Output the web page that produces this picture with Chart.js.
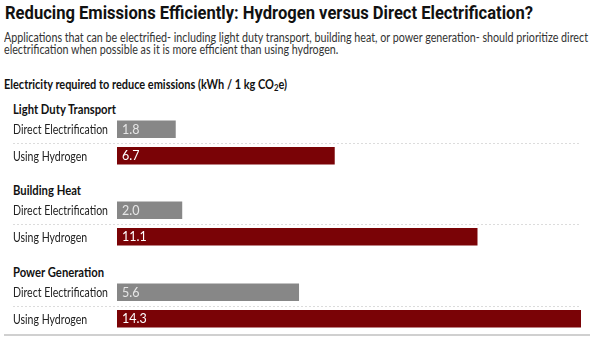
<!DOCTYPE html>
<html><head><meta charset="utf-8">
<script src="https://cdn.jsdelivr.net/npm/chart.js@4/dist/chart.umd.min.js"></script>
<style>
html,body{margin:0;padding:0;background:#fff;}
#wrap{position:relative;width:600px;height:355px;overflow:hidden;font-family:Lato,Roboto,sans-serif;color:#1a1a1a;}
.t{position:absolute;white-space:nowrap;transform-origin:0 0;}
#title{left:5px;top:3px;font-family:Roboto,sans-serif;font-size:18px;font-weight:700;line-height:20px;color:#111;}
.sub{left:4px;font-size:13.5px;line-height:12px;color:#333;}
#head{left:4px;top:77px;font-size:13.5px;font-weight:700;line-height:14px;color:#111;}
.grp{left:13px;font-size:13px;font-weight:700;line-height:14px;color:#111;}
.cw{position:absolute;left:0;width:600px;height:53px;}
#rule{position:absolute;left:4px;top:334px;width:586px;height:2px;background:#d0d0d0;}
</style></head>
<body>
<div id="wrap">
  <div id="title" class="t">Reducing Emissions Efficiently: Hydrogen versus Direct Electrification?</div>
  <div id="sub1" class="t sub" style="top:31px">Applications that can be electrified- including light duty transport, building heat, or power generation- should prioritize direct</div>
  <div id="sub2" class="t sub" style="top:43px">electrification when possible as it is more efficient than using hydrogen.</div>
  <div id="head" class="t">Electricity required to reduce emissions (kWh / 1 kg CO<sub style="font-size:9.5px;vertical-align:-2px;line-height:0">2</sub>e)</div>
  <div id="rule"></div>
</div>
<script>
// ---- data ----
const groups = ['Light Duty Transport', 'Building Heat', 'Power Generation'];
const rowLabels = ['Direct Electrification', 'Using Hydrogen'];
const directValues = [1.8, 2.0, 5.6];
const hydrogenValues = [6.7, 11.1, 14.3];

// ---- style ----
const FONT = "Lato, Roboto, sans-serif";
const LABEL_FONT = '13.5px ' + FONT;
const GRAY = '#878787';
const RED = '#7a0306';
const groupTops = [116, 197, 279];
const headerTops = [102, 183, 265];

const wrap = document.getElementById('wrap');

function fit(el, target) {
  const w = el.getBoundingClientRect().width;
  const k = target / w;
  el.style.transform = 'scaleX(' + k + ')';
  return k;
}
fit(document.getElementById('title'), 528);
const k = fit(document.getElementById('sub1'), 584);
document.getElementById('sub2').style.transform = 'scaleX(' + k + ')';
fit(document.getElementById('head'), 283);

const xMax = Math.max(...directValues, ...hydrogenValues);

// horizontal condensing factor for the row labels (narrow face in the original)
const mctx = document.createElement('canvas').getContext('2d');
mctx.font = LABEL_FONT;
const labelK = 95 / mctx.measureText(rowLabels[0]).width;

const separator = {
  id: 'separator',
  beforeDatasetsDraw(chart) {
    const y = chart.scales.y;
    const yy = Math.round((y.getPixelForValue(0) + y.getPixelForValue(1)) / 2) + 0.5;
    const c = chart.ctx;
    c.save();
    c.strokeStyle = '#dcdcdc';
    c.lineWidth = 1;
    c.setLineDash([2, 2]);
    c.beginPath();
    c.moveTo(13, yy);
    c.lineTo(chart.chartArea.right, yy);
    c.stroke();
    c.restore();
  }
};

const rowLabelDraw = {
  id: 'rowLabelDraw',
  afterDraw(chart) {
    const s = chart.scales.y;
    const c = chart.ctx;
    c.save();
    c.font = LABEL_FONT;
    c.fillStyle = '#222';
    c.textBaseline = 'middle';
    c.textAlign = 'left';
    s.ticks.forEach((t, idx) => {
      const label = s.getLabelForValue(t.value);
      const y = s.getPixelForTick(idx);
      c.save();
      c.translate(s.left, y + 0.5);
      c.scale(labelK, 1);
      c.fillText(label, 0, 0);
      c.restore();
    });
    c.restore();
  }
};

const valueLabels = {
  id: 'valueLabels',
  afterDatasetsDraw(chart) {
    const c = chart.ctx;
    const meta = chart.getDatasetMeta(0);
    c.save();
    c.font = '12.5px ' + FONT;
    c.textBaseline = 'middle';
    c.textAlign = 'left';
    meta.data.forEach((bar, j) => {
      const v = chart.data.datasets[0].data[j];
      c.fillStyle = j === 0 ? '#e6e6e6' : '#ffffff';
      c.fillText(v.toFixed(1), bar.base + 5, bar.y + 0.5);
    });
    c.restore();
  }
};

const headerEls = [];
groups.forEach((g, i) => {
  const h = document.createElement('div');
  h.className = 't grp';
  h.style.top = headerTops[i] + 'px';
  h.textContent = g;
  wrap.appendChild(h);
  headerEls.push(h);

  const box = document.createElement('div');
  box.className = 'cw';
  box.style.top = groupTops[i] + 'px';
  const cv = document.createElement('canvas');
  cv.width = 600; cv.height = 53;
  cv.style.display = 'block';
  box.appendChild(cv);
  wrap.appendChild(box);

  new Chart(cv, {
    type: 'bar',
    data: {
      labels: rowLabels,
      datasets: [{
        data: [directValues[i], hydrogenValues[i]],
        backgroundColor: [GRAY, RED],
        borderWidth: 0,
        barThickness: 17
      }]
    },
    options: {
      indexAxis: 'y',
      responsive: false,
      animation: false,
      events: [],
      devicePixelRatio: 1,
      layout: { padding: { left: 13, right: 19, top: 0, bottom: 0 } },
      plugins: { legend: { display: false }, tooltip: { enabled: false }, title: { display: false } },
      scales: {
        x: { display: false, min: 0, max: xMax },
        y: {
          grid: { display: false },
          border: { display: false },
          ticks: { display: false },
          afterFit(s) { s.width = 104; s.paddingTop = 0; s.paddingBottom = 0; }
        }
      }
    },
    plugins: [separator, valueLabels, rowLabelDraw]
  });
});
const hk = fit(headerEls[0], 103);
headerEls.forEach(h => h.style.transform = 'scaleX(' + hk + ')');
</script>
</body></html>
